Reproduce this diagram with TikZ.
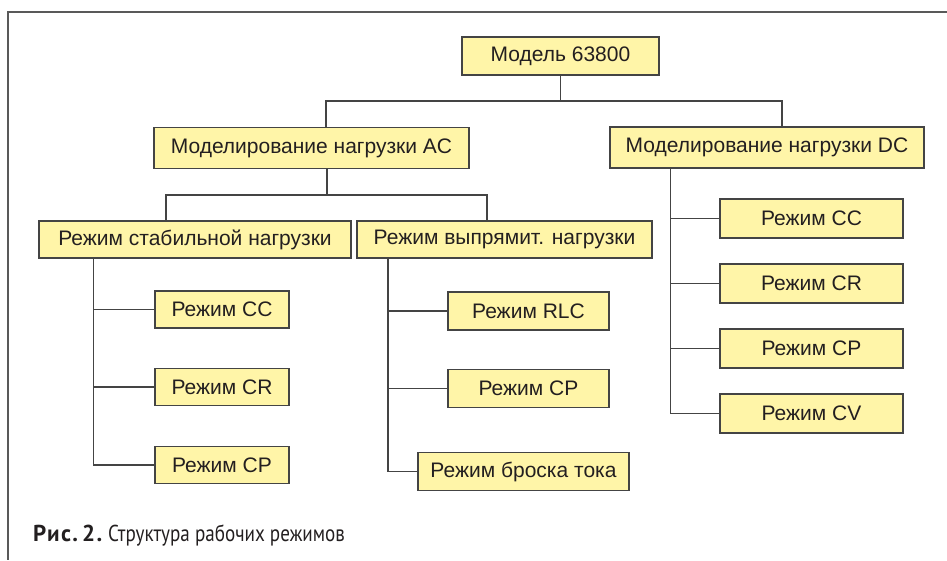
\documentclass[tikz,border=0pt]{standalone}
\usepackage{fontspec}
\setmainfont{Liberation Sans}
\newfontfamily\captionfont[FakeStretch=0.83]{PT Sans}
\newfontfamily\capboldfont[LetterSpace=6]{PT Sans}
\usetikzlibrary{calc}

\definecolor{boxfill}{RGB}{255,245,168}
\definecolor{boxline}{RGB}{68,68,68}
\definecolor{textcol}{RGB}{35,31,32}

\begin{document}
\begin{tikzpicture}[x=1pt,y=-1pt,
	]

	\tikzset{mode box/.style={
				draw=boxline,
				fill=boxfill,
				line width=1.3pt,
				inner sep=0pt,
				text=textcol,
				font=\fontsize{21}{25}\selectfont
			}
	}
	\tikzset{link/.style={
				draw=boxline,
				line width=1.3pt
			}
	}

	\useasboundingbox (0,0) rectangle (947,560);

	% frame
	\draw[line width=1.6pt,draw=black!65] (947,12) -- (8,12) -- (8,560);

	\node[mode box,minimum width=197pt,minimum height=38pt] (root) at (560.5,56) {Модель 63800};

	\node[mode box,minimum width=315pt,minimum height=41pt] (ac) at (311.5,148) {Моделирование нагрузки AC};
	\node[mode box,minimum width=314pt,minimum height=41pt] (dc) at (767,147.5) {Моделирование нагрузки DC};

	\coordinate (bus1) at (560.5,101);
	\draw[link] (root.south) -- (bus1);
	\draw[link] ($(ac.north)+(14.5,0)$) |- (bus1) -| ($(dc.north)+(15,0)$);

	\node[mode box,minimum width=312pt,minimum height=37pt] (stab) at (195,239.5) {Режим стабильной нагрузки};
	\node[mode box,minimum width=295pt,minimum height=37pt] (rect) at (504.5,239.5) {Режим выпрямит. нагрузки};

	\coordinate (bus2) at (327,195);
	\draw[link] ($(ac.south)+(15.5,0)$) -- (bus2);
	\draw[link] ($(stab.north)+(-29,0)$) |- (bus2) -| ($(rect.north)+(-17.5,0)$);

	% stable load modes
	\coordinate (sx) at ($(stab.south west)+(55,0)$);
	\foreach \i/\y/\lbl in {1/309.5/CC, 2/387/CR, 3/465/CP} {
			\node[mode box,minimum width=134pt,minimum height=37pt] (s\i) at (222,\y) {Режим \lbl};
			\draw[link] (sx) |- (s\i.west);
		}

	% rectifier load modes
	\coordinate (rx) at ($(rect.south west)+(31.5,0)$);
	\foreach \i/\x/\y/\w/\lbl in {1/528.5/311/161/RLC, 2/528.5/388.5/161/CP, 3/523.5/471.5/211/броска тока} {
			\node[mode box,minimum width=\w pt,minimum height=38pt] (r\i) at (\x,\y) {Режим \lbl};
			\draw[link] (rx) |- (r\i.west);
		}

	% dc modes
	\coordinate (dx) at ($(dc.south west)+(61,0)$);
	\foreach \i/\y/\lbl in {1/218.5/CC, 2/283.5/CR, 3/348.5/CP, 4/413.5/CV} {
			\node[mode box,minimum width=183pt,minimum height=39pt] (d\i) at (811.5,\y) {Режим \lbl};
			\draw[link] (dx) |- (d\i.west);
		}

	\node[anchor=base west,inner sep=0pt,text=textcol,font=\captionfont\fontsize{23}{27}\selectfont] (caption) at (33,541) {{\capboldfont\bfseries Рис.\hspace{4pt}2.}\hspace{6pt}Структура рабочих режимов};

\end{tikzpicture}
\end{document}
